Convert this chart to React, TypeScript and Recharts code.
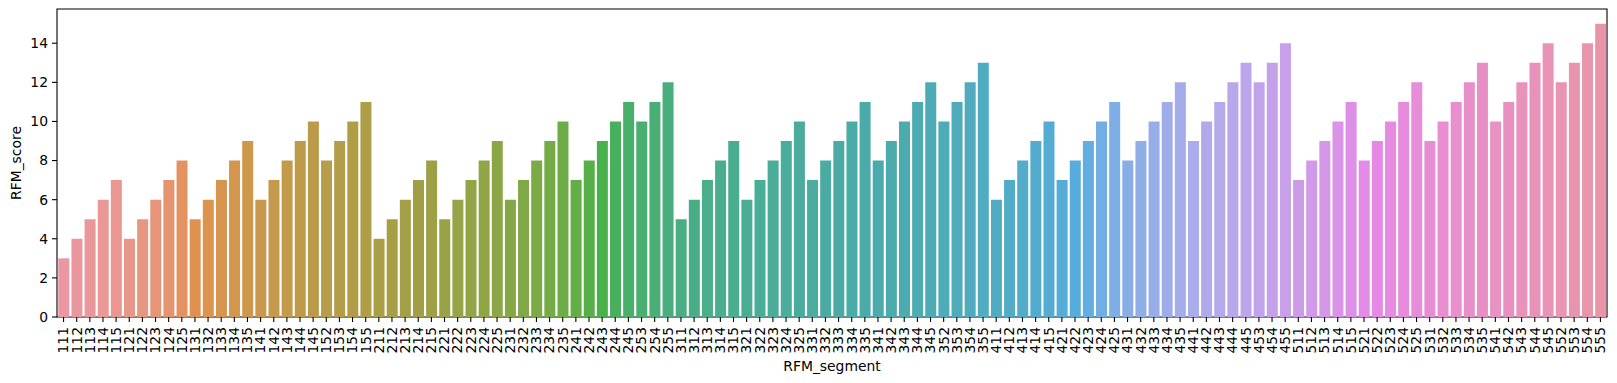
import React from 'react';
import { BarChart, Bar, XAxis, YAxis, Cell, ReferenceArea, Label } from 'recharts';

const segments = [
  '111','112','113','114','115','121','122','123','124','125','131','132','133','134','135','141','142','143','144','145','152','153','154','155',
  '211','212','213','214','215','221','222','223','224','225','231','232','233','234','235','241','242','243','244','245','253','254','255',
  '311','312','313','314','315','321','322','323','324','325','331','332','333','334','335','341','342','343','344','345','352','353','354','355',
  '411','412','413','414','415','421','422','423','424','425','431','432','433','434','435','441','442','443','444','445','453','454','455',
  '511','512','513','514','515','521','522','523','524','525','531','532','533','534','535','541','542','543','544','545','552','553','554','555',
];

const scores = [
  3,4,5,6,7,4,5,6,7,8,5,6,7,8,9,6,7,8,9,10,8,9,10,11,
  4,5,6,7,8,5,6,7,8,9,6,7,8,9,10,7,8,9,10,11,10,11,12,
  5,6,7,8,9,6,7,8,9,10,7,8,9,10,11,8,9,10,11,12,10,11,12,13,
  6,7,8,9,10,7,8,9,10,11,8,9,10,11,12,9,10,11,12,13,12,13,14,
  7,8,9,10,11,8,9,10,11,12,9,10,11,12,13,10,11,12,13,14,12,13,14,15,
];

const yTicks = [0, 2, 4, 6, 8, 10, 12, 14];
const yMax = 15.75;

const data = segments.map((s, i) => ({ segment: s, score: scores[i] }));

// --- seaborn husl palette (l=.7) + desaturate(0.75) ---
const M = [
  [3.2406, -1.5372, -0.4986],
  [-0.9689, 1.8758, 0.0415],
  [0.0557, -0.204, 1.057],
];
const refY = 1.0, refU = 0.19784, refV = 0.46834, labE = 0.008856, labK = 903.3;

function maxChroma(L: number, H: number) {
  const hrad = (H / 360) * 2 * Math.PI;
  const sinH = Math.sin(hrad), cosH = Math.cos(hrad);
  const sub1 = Math.pow(L + 16, 3) / 1560896;
  const sub2 = sub1 > labE ? sub1 : L / labK;
  let result = Infinity;
  for (const row of M) {
    const [m1, m2, m3] = row;
    const top = (0.99915 * m1 + 1.05122 * m2 + 1.1446 * m3) * sub2;
    const rb = 0.8633 * m3 - 0.17266 * m2;
    const lb = 0.12949 * m3 - 0.38848 * m1;
    const bottom = (rb * sinH + lb * cosH) * sub2;
    for (const t of [0, 1]) {
      const C = (L * (top - 1.05122 * t)) / (bottom + 0.17266 * sinH * t);
      if (C > 0 && C < result) result = C;
    }
  }
  return result;
}

function fInv(t: number) {
  const t3 = t * t * t;
  return t3 > labE ? t3 : (116 * t - 16) / labK;
}

function fromLinear(c: number) {
  return c <= 0.0031308 ? 12.92 * c : 1.055 * Math.pow(c, 1 / 2.4) - 0.055;
}

function huslToRgb(H: number, S: number, L: number): [number, number, number] {
  const C = (maxChroma(L, H) / 100) * S;
  const hrad = (H / 360) * 2 * Math.PI;
  const U = C * Math.cos(hrad), V = C * Math.sin(hrad);
  const varY = refY * fInv((L + 16) / 116);
  const varU = U / (13 * L) + refU;
  const varV = V / (13 * L) + refV;
  const Y = varY * refY;
  const X = -(9 * Y * varU) / ((varU - 4) * varV - varU * varV);
  const Z = (9 * Y - 15 * varV * Y - varV * X) / (3 * varV);
  const xyz = [X, Y, Z];
  return M.map((r) => {
    const v = fromLinear(r[0] * xyz[0] + r[1] * xyz[1] + r[2] * xyz[2]);
    return Math.min(1, Math.max(0, v));
  }) as [number, number, number];
}

function rgbToHls(r: number, g: number, b: number) {
  const maxc = Math.max(r, g, b), minc = Math.min(r, g, b);
  const l = (minc + maxc) / 2;
  if (minc === maxc) return [0, l, 0];
  const s = l <= 0.5 ? (maxc - minc) / (maxc + minc) : (maxc - minc) / (2 - maxc - minc);
  const rc = (maxc - r) / (maxc - minc), gc = (maxc - g) / (maxc - minc), bc = (maxc - b) / (maxc - minc);
  let h;
  if (r === maxc) h = bc - gc;
  else if (g === maxc) h = 2 + rc - bc;
  else h = 4 + gc - rc;
  h = ((h / 6) % 1 + 1) % 1;
  return [h, l, s];
}
function v(m1: number, m2: number, hue: number) {
  hue = ((hue % 1) + 1) % 1;
  if (hue < 1 / 6) return m1 + (m2 - m1) * hue * 6;
  if (hue < 0.5) return m2;
  if (hue < 2 / 3) return m1 + (m2 - m1) * (2 / 3 - hue) * 6;
  return m1;
}
function hlsToRgb(h: number, l: number, s: number) {
  if (s === 0) return [l, l, l];
  const m2 = l <= 0.5 ? l * (1 + s) : l + s - l * s;
  const m1 = 2 * l - m2;
  return [v(m1, m2, h + 1 / 3), v(m1, m2, h), v(m1, m2, h - 1 / 3)];
}

function makePalette(n: number) {
  const out: string[] = [];
  for (let i = 0; i < n; i++) {
    let h = (i / n + 0.01) % 1;
    h *= 359;
    const [r, g, b] = huslToRgb(h, 0.9 * 99, 0.7 * 99);
    const [hh, ll, ss] = rgbToHls(r, g, b);
    const [r2, g2, b2] = hlsToRgb(hh, ll, ss * 0.75);
    const toHex = (c: number) => Math.round(Math.min(1, Math.max(0, c)) * 255).toString(16).padStart(2, '0');
    out.push('#' + toHex(r2) + toHex(g2) + toHex(b2));
  }
  return out;
}

const colors = makePalette(segments.length);

const FONT = "'DejaVu Sans', sans-serif";
const FS = 13.9;

const XTick = (props: any) => {
  const { x, y, payload } = props;
  return (
    <text
      x={x}
      y={y}
      transform={`rotate(-90, ${x}, ${y})`}
      textAnchor="end"
      dy="0.35em"
      fontSize={FS}
      fontFamily={FONT}
      fill="#000"
    >
      {payload.value}
    </text>
  );
};

export default function App() {
  return (
    <div style={{ position: 'absolute', left: 0, top: 0, background: '#fff' }}>
      <BarChart
        width={1617}
        height={383}
        data={data}
        margin={{ top: 9, right: 10, left: 10, bottom: 10 }}
        barCategoryGap="10%"
        style={{ fontFamily: FONT }}
      >
        <XAxis
          dataKey="segment"
          type="category"
          interval={0}
          height={56}
          axisLine={false}
          tickLine={{ stroke: '#000', strokeWidth: 1.1 }}
          tickSize={5}
          tickMargin={5}
          tick={<XTick />}
        >
          <Label
            content={() => (
              <text x={832} y={366} textAnchor="middle" dominantBaseline="central" fontSize={FS} fontFamily={FONT} fill="#000">
                RFM_segment
              </text>
            )}
          />
        </XAxis>
        <YAxis
          type="number"
          domain={[0, yMax]}
          ticks={yTicks}
          allowDataOverflow
          width={47}
          axisLine={false}
          tickLine={{ stroke: '#000', strokeWidth: 1.1 }}
          tickSize={5}
          tickMargin={4}
          tick={{ fill: '#000', fontSize: FS, fontFamily: FONT }}
        >
          <Label
            content={() => (
              <text x={16} y={163} transform="rotate(-90, 16, 163)" textAnchor="middle" dominantBaseline="central" fontSize={FS} fontFamily={FONT} fill="#000">
                RFM_score
              </text>
            )}
          />
        </YAxis>
        <Bar dataKey="score" isAnimationActive={false}>
          {data.map((d, i) => (
            <Cell key={d.segment} fill={colors[i]} />
          ))}
        </Bar>
        <ReferenceArea y1={0} y2={yMax} fill="none" fillOpacity={0} stroke="#000" strokeWidth={1.1} />
      </BarChart>
    </div>
  );
}
